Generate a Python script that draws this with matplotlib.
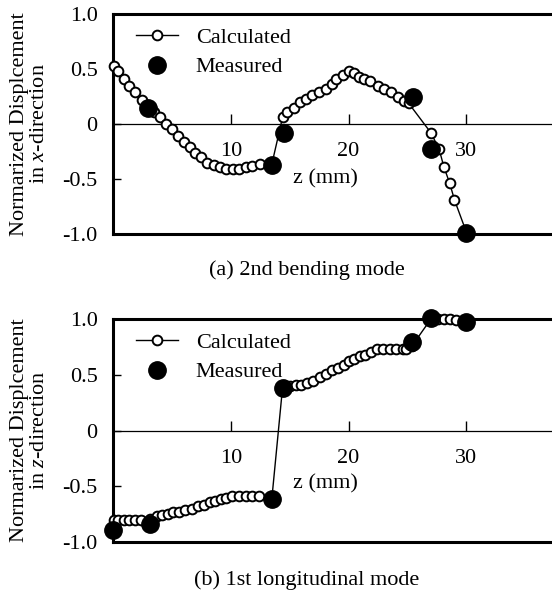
import numpy as np
import matplotlib
matplotlib.use("Agg")
import matplotlib.pyplot as plt
from matplotlib.lines import Line2D

plt.rcParams['font.family'] = ['Liberation Serif', 'DejaVu Serif']
plt.rcParams['mathtext.fontset'] = 'custom'
plt.rcParams['mathtext.it'] = 'Liberation Serif:italic'
plt.rcParams['mathtext.rm'] = 'Liberation Serif'

# (a) 2nd bending mode, x-direction
calc_a_z = [0.1, 0.4, 0.9, 1.4, 1.9, 2.5, 3.0, 3.5, 4.0, 4.5, 5.0, 5.5, 6.0, 6.5, 7.0,
            7.5, 8.0, 8.6, 9.1, 9.6, 10.2, 10.7, 11.3, 11.8, 12.5, 13.5,
            14.4, 14.8, 15.4, 15.9, 16.4, 16.9, 17.5, 18.1, 18.6, 18.9, 19.5, 20.0,
            20.5, 20.9, 21.3, 21.8, 22.5, 23.0, 23.6, 24.2, 24.7, 25.1,
            27.0, 27.7, 28.1, 28.6, 29.0, 30.0]
calc_a_v = [0.53, 0.48, 0.41, 0.35, 0.29, 0.22, 0.15, 0.11, 0.06, 0.0, -0.045, -0.11,
            -0.16, -0.21, -0.26, -0.30, -0.35, -0.37, -0.39, -0.41, -0.41, -0.41, -0.39,
            -0.38, -0.36, -0.36,
            0.06, 0.105, 0.15, 0.20, 0.23, 0.26, 0.29, 0.32, 0.36, 0.41, 0.45, 0.48,
            0.46, 0.43, 0.41, 0.39, 0.35, 0.32, 0.29, 0.25, 0.21, 0.19,
            -0.08, -0.23, -0.39, -0.54, -0.69, -0.98]
meas_a_z = [3.0, 13.5, 14.5, 25.5, 27.0, 30.0]
meas_a_v = [0.15, -0.37, -0.085, 0.25, -0.23, -0.99]

# (b) 1st longitudinal mode, z-direction
calc_b_z = [0.05, 0.45, 0.9, 1.4, 1.9, 2.4, 3.1, 3.7, 4.2, 4.7, 5.1, 5.6, 6.15, 6.7,
            7.2, 7.7, 8.2, 8.7, 9.2, 9.6, 10.1, 10.7, 11.3, 11.8, 12.4, 13.5,
            14.4, 15.0, 15.5, 16.0, 16.5, 17.0, 17.6, 18.1, 18.6, 19.1, 19.6, 20.0,
            20.5, 21.0, 21.4, 21.9, 22.4, 22.9, 23.5, 24.0, 24.6, 24.9, 25.4,
            27.0, 27.6, 28.1, 28.6, 29.1, 30.0]
calc_b_v = [-0.80, -0.80, -0.80, -0.80, -0.80, -0.80, -0.79, -0.77, -0.755, -0.75,
            -0.735, -0.73, -0.71, -0.70, -0.68, -0.665, -0.64, -0.63, -0.615, -0.605,
            -0.59, -0.59, -0.59, -0.59, -0.59, -0.60,
            0.385, 0.40, 0.405, 0.405, 0.43, 0.44, 0.48, 0.51, 0.54, 0.56, 0.59, 0.62,
            0.645, 0.67, 0.68, 0.70, 0.73, 0.73, 0.73, 0.73, 0.73, 0.73, 0.76,
            1.0, 1.0, 1.0, 1.0, 0.99, 0.97]
meas_b_z = [0.0, 3.1, 13.5, 14.4, 25.4, 27.0, 30.0]
meas_b_v = [-0.89, -0.84, -0.615, 0.385, 0.79, 1.01, 0.97]

fs = 16
fig = plt.figure(figsize=(5.52, 5.97), dpi=100)
W, H = 552, 597


def panel(top, bottom, cz, cv, mz, mv, ylab, caption, cap_y, label_y):
    ax = fig.add_axes([113 / W, 1 - bottom / H, (584 - 113) / W, (bottom - top) / H])
    ax.plot(cz, cv, '-o', color='black', lw=1.0, ms=7, mfc='white', mec='black',
            mew=1.4, clip_on=False, zorder=3)
    ax.plot(mz, mv, 'o', color='black', ms=12.5, clip_on=False, zorder=4)
    ax.set_xlim(0, 40)
    ax.set_ylim(-1, 1)
    ax.axhline(0, color='black', lw=0.9)
    for s in ax.spines.values():
        s.set_linewidth(2.2)
    ax.set_xticks([])
    ax.set_yticks([-1.0, -0.5, 0, 0.5, 1.0])
    ax.set_yticklabels(['-1.0', '-0.5', '0', '0.5', '1.0'])
    ax.tick_params(axis='y', direction='in', length=6, width=1, labelsize=fs, pad=11)
    sec = ax.secondary_xaxis(0.5)
    sec.xaxis.set_ticks_position('bottom')
    sec.xaxis.set_label_position('bottom')
    sec.set_xticks([10, 20, 30])
    for s in sec.spines.values():
        s.set_visible(False)
    sec.tick_params(direction='in', length=7, width=1, labelsize=fs, pad=13)
    ax.text(18, label_y, 'z (mm)', fontsize=fs, ha='center', va='center')
    ax.set_ylabel(ylab, fontsize=fs, linespacing=1.05, labelpad=10)
    handles = [Line2D([], [], color='black', lw=1.0, marker='o', ms=7, mfc='white',
                      mec='black', mew=1.4),
               Line2D([], [], color='black', ls='none', marker='o', ms=12.5)]
    ax.legend(handles, ['Calculated', 'Measured'], loc='upper left', frameon=False,
              fontsize=fs, handlelength=1.9, handletextpad=0.8, labelspacing=0.4,
              borderaxespad=0.2, bbox_to_anchor=(0.02, 1.0))
    fig.text(307 / W, 1 - cap_y / H, caption, fontsize=fs, ha='center', va='center')
    return ax


panel(14, 234, calc_a_z, calc_a_v, meas_a_z, meas_a_v,
      'Normarized Displcement\nin $x$-direction', '(a) 2nd bending mode', 270, -0.5)
panel(319, 542, calc_b_z, calc_b_v, meas_b_z, meas_b_v,
      'Normarized Displcement\nin $z$-direction', '(b) 1st longitudinal mode', 580, -0.48)

fig.savefig('out.png', dpi=100)
